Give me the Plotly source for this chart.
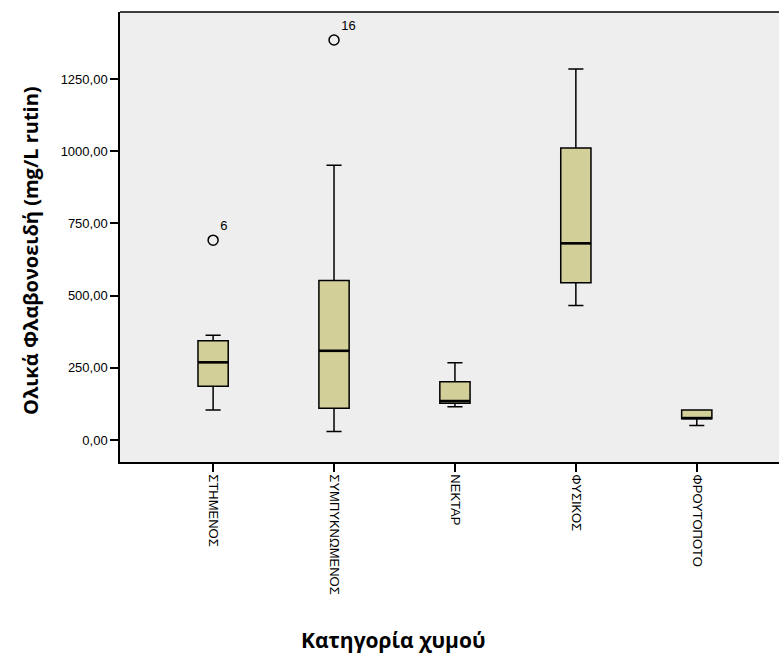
import plotly.graph_objects as go

# Juice categories and five-number summaries (mg/L rutin)
categories = ["ΣΤΗΜΕΝΟΣ", "ΣΥΜΠΥΚΝΩΜΕΝΟΣ", "ΝΕΚΤΑΡ", "ΦΥΣΙΚΟΣ", "ΦΡΟΥΤΟΠΟΤΟ"]
lower_fence = [104, 30, 115, 466, 50]
q1 = [186, 110, 127, 545, 74]
median = [269, 309, 135, 681, 76]
q3 = [344, 552, 202, 1011, 104]
upper_fence = [363, 951, 268, 1285, 104]

# Outlying cases (category index, value, case label)
outlier_cat = [0, 1]
outlier_val = [692, 1385]
outlier_lbl = ["6", "16"]

y_ticks = [0, 250, 500, 750, 1000, 1250]

BOX_W = 0.25
FILL = "#D3CF99"

fig = go.Figure()

for i in range(len(categories)):
    fig.add_trace(go.Box(
        x=[i], q1=[q1[i]], median=[median[i]], q3=[q3[i]],
        lowerfence=[lower_fence[i]], upperfence=[upper_fence[i]],
        width=BOX_W, whiskerwidth=0.5, fillcolor=FILL,
        line=dict(color="black", width=1.5), boxpoints=False,
        showlegend=False, hoverinfo="skip",
    ))
    # heavier median bar
    fig.add_trace(go.Scatter(
        x=[i - BOX_W / 2, i + BOX_W / 2], y=[median[i], median[i]],
        mode="lines", line=dict(color="black", width=2.6),
        showlegend=False, hoverinfo="skip",
    ))

fig.add_trace(go.Scatter(
    x=outlier_cat, y=outlier_val, mode="markers+text",
    marker=dict(symbol="circle-open", size=10, color="black",
                line=dict(width=1.5, color="black")),
    text=outlier_lbl, textposition="top right",
    textfont=dict(family="Liberation Sans, Arial", size=13, color="black"),
    showlegend=False, hoverinfo="skip",
))

fig.update_layout(
    width=779, height=658,
    margin=dict(l=120, r=0, t=12, b=196),
    paper_bgcolor="white", plot_bgcolor="#EEEEEE",
    separators=",.",
    font=dict(family="Liberation Sans, Arial", color="black"),
)

fig.update_xaxes(
    range=[-0.77, 4.68], tickvals=list(range(len(categories))), ticktext=categories,
    tickangle=90, ticks="outside", ticklen=8, tickwidth=1.5, tickcolor="black",
    tickfont=dict(family="Liberation Sans, Arial", size=13, color="black"),
    showgrid=False, zeroline=False,
    showline=True, linecolor="black", linewidth=1.5, mirror=False,
)
fig.update_yaxes(
    range=[-76, 1482], tickvals=y_ticks, tickformat=".2f",
    ticks="outside", ticklen=8, tickwidth=1.5, tickcolor="black",
    tickfont=dict(family="Liberation Sans, Arial", size=13, color="black"),
    showgrid=False, zeroline=False,
    showline=True, linecolor="black", linewidth=1.5,
)

# top frame line
fig.add_shape(type="line", xref="paper", yref="paper", x0=0, x1=1, y0=1, y1=1,
              line=dict(color="black", width=1.5))

fig.add_annotation(
    text="<b>Ολικά Φλαβονοειδή (mg/L rutin)</b>", xref="paper", yref="paper",
    x=(30 - 120) / 659, y=(462 - 251) / 450, textangle=-90,
    xanchor="center", yanchor="middle", showarrow=False,
    font=dict(family="Open Sans, Lato", size=20, color="black"),
)
fig.add_annotation(
    text="<b>Κατηγορία χυμού</b>", xref="paper", yref="paper",
    x=(393 - 120) / 659, y=(462 - 640) / 450,
    xanchor="center", yanchor="middle", showarrow=False,
    font=dict(family="Open Sans, Lato", size=21, color="black"),
)

fig.write_html("out.html")
